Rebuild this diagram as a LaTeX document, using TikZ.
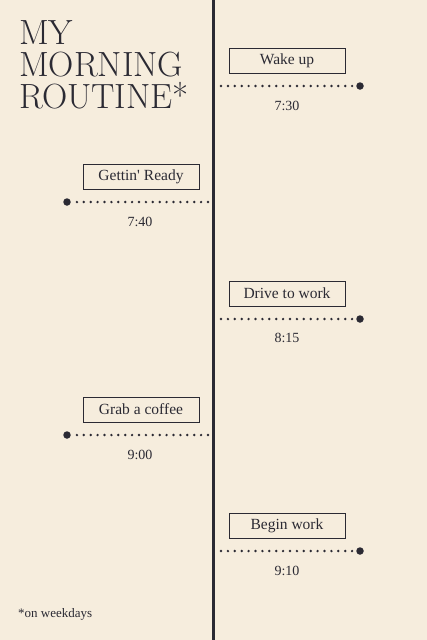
\documentclass[tikz,border=0pt]{standalone}
\usepackage{tikz}
\usepackage{fontspec}
\setmainfont{Liberation Serif}
\newfontfamily\titlefont{Latin Modern Roman}
\newfontfamily\apfont{Liberation Serif}[Ligatures=TeXOff]
\usetikzlibrary{calc}
\definecolor{bg}{RGB}{246, 237, 221}
\definecolor{ink}{RGB}{43, 42, 51}
\tikzset{
  stepbox/.style={draw=ink, line width=1pt, minimum width=116pt, minimum height=25pt, inner sep=0pt, text=ink, font=\fontsize{15.5}{17}\selectfont},
  timelbl/.style={text=ink, font=\fontsize{14}{16}\selectfont},
  dotline/.style={ink, line width=2.7pt, line cap=round, dash pattern=on 0pt off 6.9pt},
  enddot/.style={circle, fill=ink, inner sep=0pt, minimum size=7.5pt}
}
\begin{document}
\begin{tikzpicture}[x=1pt, y=-1pt]
      \fill[bg] (0,0) rectangle (427,640);
      \useasboundingbox (0,0) rectangle (427,640);
      \coordinate (top) at (213.5,0);
      \coordinate (bot) at (213.5,640);
      \draw[ink, line width=3pt] (top) -- (bot);

      % title
      \node[anchor=north west, align=left, text=ink, inner sep=0pt,
            font=\titlefont\fontsize{35}{32}\selectfont] (T) at (19,20) {MY\\MORNING\\ROUTINE*};

      % right side
      \node[stepbox] (A) at (287, 60.5)  {Wake up};
      \coordinate (A1) at (221, 86);
      \node[enddot] (A2) at (360, 86) {};
      \draw[dotline] (A1) -- (A2);
      \node[timelbl] (At) at (287, 106) {7:30};

      % left side
      \node[stepbox] (B) at (141, 177)   {Gettin{\apfont'} Ready};
      \node[enddot] (B1) at (67, 202) {};
      \coordinate (B2) at (208, 202);
      \draw[dotline] (B2) -- (B1);
      \node[timelbl] (Bt) at (140, 222) {7:40};

      \node[stepbox] (C) at (287, 293.5) {Drive to work};
      \coordinate (C1) at (221, 319);
      \node[enddot] (C2) at (360, 319) {};
      \draw[dotline] (C1) -- (C2);
      \node[timelbl] (Ct) at (287, 338) {8:15};

      \node[stepbox] (D) at (141, 409.5) {Grab a coffee};
      \node[enddot] (D1) at (67, 435) {};
      \coordinate (D2) at (208, 435);
      \draw[dotline] (D2) -- (D1);
      \node[timelbl] (Dt) at (140, 455) {9:00};

      \node[stepbox] (E) at (287, 526)   {Begin work};
      \coordinate (E1) at (221, 551);
      \node[enddot] (E2) at (360, 551) {};
      \draw[dotline] (E1) -- (E2);
      \node[timelbl] (Et) at (287, 571) {9:10};

      \node[anchor=west, text=ink, inner sep=0pt, font=\fontsize{13}{14}\selectfont] (F) at (18, 614) {*on weekdays};
\end{tikzpicture}
\end{document}
